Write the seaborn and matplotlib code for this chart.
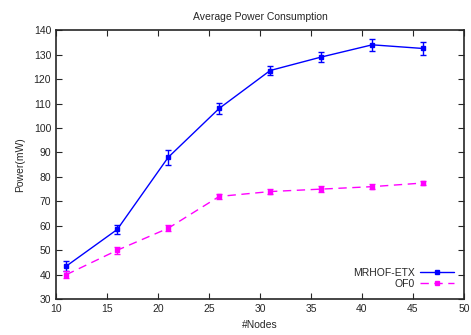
import pandas as pd
import matplotlib.pyplot as plt
import seaborn as sns
from matplotlib.lines import Line2D

# 資料
nodes = [11, 16, 21, 26, 31, 36, 41, 46]
mrhof_power = [43.5, 58.5, 88.0, 108.0, 123.5, 129.0, 134.0, 132.5]
mrhof_err = [2.0, 2.0, 3.0, 2.3, 1.7, 2.2, 2.5, 2.5]
of0_power = [40.0, 50.0, 59.0, 72.0, 74.0, 75.0, 76.0, 77.5]
of0_err = [1.5, 1.5, 1.3, 1.2, 1.2, 1.2, 0.9, 0.9]

df = pd.DataFrame({
    'Nodes': nodes * 2,
    'Power': mrhof_power + of0_power,
    'Err': mrhof_err + of0_err,
    'Series': ['MRHOF-ETX'] * len(nodes) + ['OF0'] * len(nodes),
})

sns.set_style("ticks")
plt.rcParams['font.family'] = ['Liberation Sans', 'DejaVu Sans']

fig = plt.figure(figsize=(4.71, 3.35), dpi=100)
ax = fig.add_axes([0.119, 0.107, 0.866, 0.803])

colors = {'MRHOF-ETX': '#0000ff', 'OF0': '#ff00ff'}
dashes = {'MRHOF-ETX': '-', 'OF0': (0, (6, 4))}

handles = []
for name, sub in df.groupby('Series'):
    ax.errorbar(sub['Nodes'], sub['Power'], yerr=sub['Err'],
                color=colors[name], lw=1, ls=dashes[name],
                marker='s', ms=2.5, capsize=2, elinewidth=1, capthick=1)
    handles.append(Line2D([0], [0], color=colors[name], lw=1, ls=dashes[name],
                          marker='s', ms=2.5, label=name))

ax.set_xlim(10, 50)
ax.set_ylim(30, 140)
ax.set_xticks(range(10, 51, 5))
ax.set_yticks(range(30, 141, 10))
ax.tick_params(direction='in', top=True, right=True, labelsize=7.5, length=4, width=0.8)
for s in ax.spines.values():
    s.set_linewidth(1.2)
    s.set_visible(True)

ax.set_title('Average Power Consumption', fontsize=7.5, pad=7)
ax.set_xlabel('#Nodes', fontsize=7.5, labelpad=4)
ax.set_ylabel('Power(mW)', fontsize=7.5, labelpad=6)

ax.legend(handles=handles, loc='lower right', frameon=False, markerfirst=False, fontsize=7.5,
          handlelength=3.2, borderaxespad=0.6, labelspacing=0.1, handletextpad=0.5)

plt.savefig('out.png', dpi=100)
plt.close()
